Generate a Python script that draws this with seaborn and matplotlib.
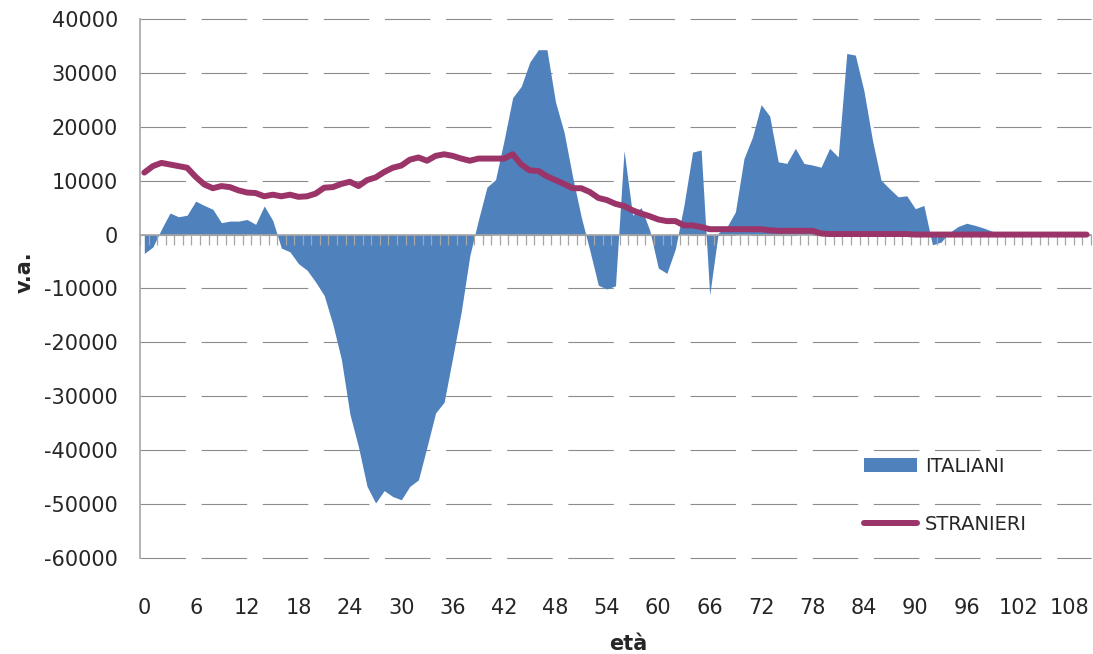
import numpy as np
import pandas as pd
import seaborn as sns
import matplotlib.pyplot as plt

# età 0..110
eta = list(range(111))

italiani = [-3500, -2300, 1000, 4000, 3300, 3600, 6200, 5400, 4700, 2200,
            2500, 2500, 2800, 1900, 5300, 2600, -2500, -3200, -5400, -6600,
            -8800, -11300, -16600, -23100, -33300, -39400, -46700, -49800, -47500, -48600,
            -49200, -46700, -45500, -39400, -33100, -31100, -22800, -14300, -3900, 2700,
            8800, 10200, 17500, 25400, 27500, 32000, 34300, 34300, 24600, 19000,
            10700, 3300, -2900, -9400, -10100, -9500, 15600, 3600, 5000, 800,
            -6200, -7200, -2600, 5500, 15300, 15700, -11200, 300, 1400, 4200,
            14100, 18100, 24100, 22000, 13500, 13200, 16000, 13200, 12900, 12500,
            16000, 14400, 33600, 33300, 26700, 17500, 10100, 8500, 7000, 7200,
            4800, 5400, -1900, -1400, 400, 1500, 2100, 1700, 1200, 600,
            200, 0, 0, 0, 0, 0, 0, 0, 0, 0,
            0]

stranieri = [11500, 12700, 13300, 13000, 12700, 12400, 10700, 9300, 8600, 9000,
             8800, 8200, 7800, 7700, 7100, 7400, 7100, 7400, 7000, 7100,
             7600, 8700, 8800, 9400, 9800, 9000, 10100, 10600, 11600, 12400,
             12800, 13900, 14300, 13700, 14600, 14900, 14600, 14100, 13700, 14100,
             14100, 14100, 14100, 14900, 13000, 11900, 11800, 10800, 10100, 9400,
             8600, 8600, 7900, 6800, 6400, 5700, 5300, 4500, 3900, 3400,
             2800, 2500, 2500, 1700, 1700, 1400, 1000, 1000, 1000, 1000,
             1000, 1000, 1000, 800, 700, 700, 700, 700, 700, 200,
             100, 100, 100, 100, 100, 100, 100, 100, 100, 100,
             0, 0, 0, 0, 0, 0, 0, 0, 0, 0,
             0, 0, 0, 0, 0, 0, 0, 0, 0, 0,
             0]

y_ticks = list(range(-60000, 40001, 10000))
x_ticks = list(range(0, 109, 6))

df = pd.DataFrame({'eta': eta, 'ITALIANI': italiani, 'STRANIERI': stranieri})

sns.set_style('white')
plt.rcParams['font.family'] = ['DejaVu Sans']

blu = '#4F81BD'
viola = '#9B3468'
grigio = '#A6A6A6'

fig = plt.figure(figsize=(10.93, 6.54), dpi=100)
ax = fig.add_axes([0.1281, 0.1468, 0.870, 0.8242])

ymin, ymax = -60000, 40000
ax.set_ylim(ymin, ymax)
ax.set_xlim(-0.5, len(eta) - 0.5)

# griglia tratteggiata
for yv in y_ticks:
    ax.axhline(yv, color='#8C8C8C', linewidth=0.8, dashes=(41, 14), zorder=0,
               clip_on=False)

ax.fill_between(df['eta'], df['ITALIANI'], 0, color=blu, linewidth=0,
                label='ITALIANI', zorder=1)
sns.lineplot(data=df, x='eta', y='STRANIERI', color=viola, linewidth=4.3,
             label='STRANIERI', ax=ax, zorder=3, solid_joinstyle='round',
             solid_capstyle='round')

# asse orizzontale sullo zero con tacche tra le categorie
sec = ax.secondary_xaxis((0 - ymin) / (ymax - ymin))
sec.set_xticks(np.arange(len(eta) + 1) - 0.5)
sec.set_xticklabels([])
sec.xaxis.set_ticks_position('bottom')
sec.tick_params(axis='x', length=7, width=0.9, color=grigio,
                labelbottom=False, labeltop=False)
for s in sec.spines.values():
    s.set_color(grigio)
    s.set_linewidth(1.2)
sec.set_zorder(2)

for s in ['top', 'right', 'bottom']:
    ax.spines[s].set_visible(False)
ax.spines['left'].set_color(grigio)
ax.spines['left'].set_linewidth(1.2)

ax.set_yticks(y_ticks)
ax.set_yticklabels([str(v) for v in y_ticks])
ax.tick_params(axis='y', length=6, color=grigio, pad=10, labelsize=15)
ax.set_xticks(x_ticks)
ax.set_xticklabels([str(v) for v in x_ticks])
ax.tick_params(axis='x', length=0, pad=29, labelsize=15)

ax.set_xlabel('età', fontsize=15, fontweight='bold')
ax.xaxis.set_label_coords(0.513, -0.141)
ax.set_ylabel('v.a.', fontsize=15, fontweight='bold')
ax.yaxis.set_label_coords(-0.111, 0.531)

handles, labels = ax.get_legend_handles_labels()
order = [labels.index('ITALIANI'), labels.index('STRANIERI')]
leg = ax.legend([handles[i] for i in order], [labels[i] for i in order],
                loc='upper left', bbox_to_anchor=(864 / 1093, 1 - 457 / 654),
                bbox_transform=fig.transFigure, frameon=False, fontsize=14,
                handlelength=2.7, handleheight=0.7, handletextpad=0.45,
                labelspacing=2.0, borderpad=0, borderaxespad=0)

fig.savefig('out.png', dpi=100)
